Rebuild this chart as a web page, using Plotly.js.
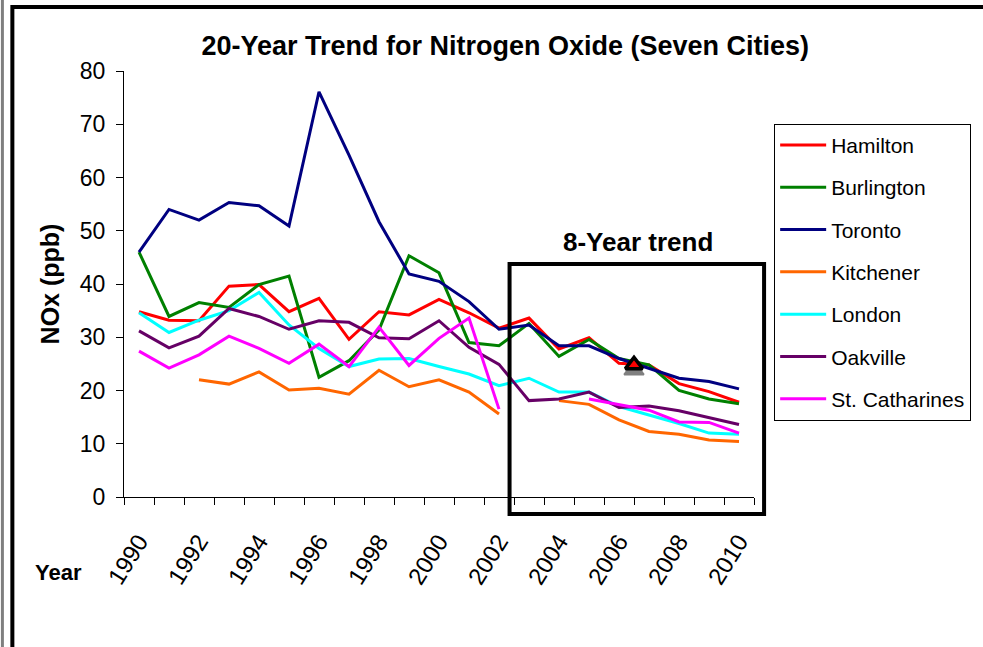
<!DOCTYPE html>
<html>
<head>
<meta charset="utf-8">
<script src="https://cdn.plot.ly/plotly-3.0.1.min.js"></script>
<style>
html,body{margin:0;padding:0;background:#fff;}
#chart{width:983px;height:647px;}
</style>
</head>
<body>
<div id="chart"></div>
<script>
const years = [1990,1991,1992,1993,1994,1995,1996,1997,1998,1999,2000,2001,2002,2003,2004,2005,2006,2007,2008,2009,2010];
const yearTickLabels = ["1990","1992","1994","1996","1998","2000","2002","2004","2006","2008","2010"];
const cities = ["Hamilton","Burlington","Toronto","Kitchener","London","Oakville","St. Catharines"];
const cityColors = ["#FF0000","#008000","#000080","#FF6600","#00FFFF","#660066","#FF00FF"];

const hamilton =      [34.8,33.2,33.1,39.6,39.9,34.8,37.3,29.6,34.8,34.2,37.1,34.6,31.7,33.6,27.8,29.9,25.1,24.8,21.3,19.8,17.8];
const burlington =    [46.0,33.9,36.5,35.6,39.9,41.5,22.5,25.6,31.4,45.3,42.1,29.0,28.4,32.6,26.4,29.6,26.0,24.8,20.0,18.4,17.5];
const toronto =       [46.0,54.0,52.0,55.3,54.7,50.9,76.1,64.2,51.7,41.9,40.5,36.7,31.5,32.3,28.4,28.4,26.0,24.2,22.3,21.7,20.3];
const kitchener =     [null,null,22.0,21.2,23.5,20.1,20.4,19.3,23.8,20.7,22.0,19.7,15.6,null,18.1,17.4,14.5,12.3,11.8,10.7,10.4];
const london =        [34.6,30.9,33.2,35.0,38.4,32.3,27.9,24.5,25.9,26.0,24.5,23.1,20.9,22.3,19.7,19.7,17.0,15.4,13.8,12.0,11.8];
const oakville =      [31.2,28.0,30.2,35.4,33.9,31.5,33.1,32.8,29.9,29.7,33.1,28.1,24.9,18.1,18.4,19.7,16.8,17.1,16.2,14.9,13.6];
const stCatharines =  [27.4,24.2,26.7,30.2,27.9,25.1,28.7,24.5,31.9,24.7,29.8,33.6,16.5,null,null,18.4,17.3,16.3,14.1,14.0,12.0];
const seriesValues = [hamilton,burlington,toronto,kitchener,london,oakville,stCatharines];

const yTickValues = [0,10,20,30,40,50,60,70,80];
const trendMarkerX = [2006.5];
const trendMarkerY = [24.8];
const trendShadowY = [23.8];

const traces = cities.map((name,i)=>({
  type:'scatter', mode:'lines', name:name,
  x: years, y: seriesValues[i],
  connectgaps:false,
  legendgroup:'g'+i,
  line:{color:cityColors[i], width:3}
}));
traces.push({
  type:'scatter', mode:'markers', x:trendMarkerX, y:trendShadowY, showlegend:false, hoverinfo:'skip',
  marker:{symbol:'triangle-up', size:17, color:'#808080', line:{color:'#808080', width:2}}
});
traces.push({
  type:'scatter', mode:'markers', x:trendMarkerX, y:trendMarkerY, showlegend:false,
  marker:{symbol:'triangle-up', size:15, color:'#FF0000', line:{color:'#000000', width:3.5}}
});

const boundaryTicks = [];
for (let k=0;k<=years.length;k++){ boundaryTicks.push(years[0]-0.5+k); }
const labelTickVals = yearTickLabels.map(Number);

const layout = {
  width:983, height:647,
  margin:{l:124, r:227, t:71, b:150},
  paper_bgcolor:'#ffffff', plot_bgcolor:'#ffffff',
  font:{family:'Liberation Sans, Arial, sans-serif', color:'#000'},
  showlegend:true,
  title:{
    text:'<b>20-Year Trend for Nitrogen Oxide (Seven Cities)</b>',
    font:{size:27, family:'Liberation Sans, Arial, sans-serif', color:'#000'},
    x:0.514, xref:'container', xanchor:'center',
    y:0.93, yref:'container', yanchor:'middle'
  },
  xaxis:{
    range:[1989.5,2010.5], showgrid:false, zeroline:false,
    showline:true, linecolor:'#000', linewidth:1,
    tickmode:'array', tickvals:labelTickVals, ticktext:yearTickLabels,
    ticks:'', tickangle:-58, tickfont:{size:24},
    ticklabelstandoff:20,
    minor:{tickmode:'array', tickvals:boundaryTicks, ticks:'outside', ticklen:7, tickcolor:'#000', showgrid:false}
  },
  yaxis:{
    range:[0,80], showgrid:false, zeroline:false,
    showline:true, linecolor:'#000', linewidth:1,
    tickmode:'array', tickvals:yTickValues,
    ticks:'outside', ticklen:7, tickcolor:'#000',
    tickfont:{size:23}, ticklabelstandoff:6,
    title:{text:'<b>NOx (ppb)</b>', font:{size:25}, standoff:13}
  },
  legend:{
    x:1.032, xanchor:'left', y:0.876, yanchor:'top',
    bordercolor:'#000', borderwidth:1, bgcolor:'#fff',
    font:{size:21}, tracegroupgap:12, itemwidth:46
  },
  annotations:[
    {text:'<b>8-Year trend</b>', xref:'paper', yref:'paper', x:0.816, y:0.599,
     xanchor:'center', yanchor:'middle', showarrow:false, font:{size:26, color:'#000'}},
    {text:'<b>Year</b>', xref:'paper', yref:'paper', x:-0.104, y:-0.178,
     xanchor:'center', yanchor:'middle', showarrow:false, font:{size:22, color:'#000'}}
  ],
  shapes:[
    {type:'rect', xref:'paper', yref:'paper', x0:0.612, x1:1.016, y0:-0.040, y1:0.547,
     line:{color:'#000', width:4}, fillcolor:'rgba(0,0,0,0)', layer:'above'},
    {type:'rect', xref:'paper', yref:'paper', x0:-0.1772, x1:1.6, y0:-0.6, y1:1.150,
     line:{color:'#000', width:4}, fillcolor:'rgba(0,0,0,0)', layer:'above'},
    {type:'line', xref:'paper', yref:'paper', x0:-0.1930, x1:-0.1930, y0:-0.6, y1:1.3,
     line:{color:'#7f7f7f', width:3}, layer:'above'}
  ]
};

Plotly.newPlot('chart', traces, layout, {displayModeBar:false, staticPlot:true});
</script>
</body>
</html>
